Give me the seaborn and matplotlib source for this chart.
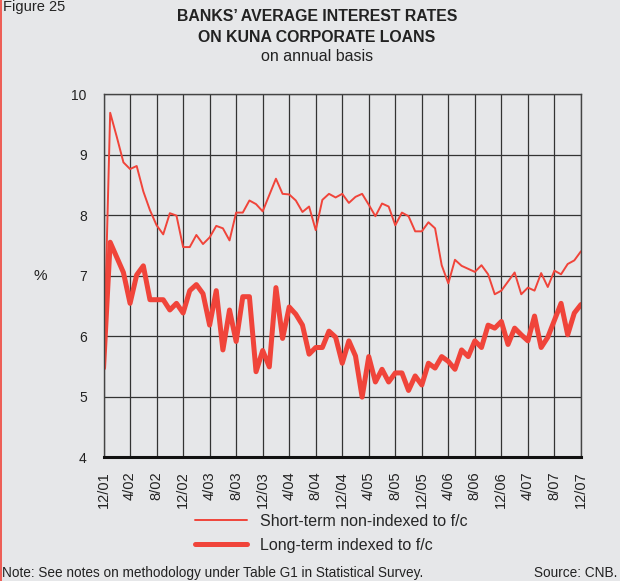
import numpy as np
import pandas as pd
import matplotlib
matplotlib.use("Agg")
import matplotlib.pyplot as plt
import seaborn as sns

# monthly data, 12/2001 - 12/2007
short_term = [5.45, 9.69, 9.29, 8.87, 8.76, 8.81, 8.39, 8.08, 7.83, 7.68, 8.03, 7.99,
              7.47, 7.47, 7.67, 7.52, 7.63, 7.82, 7.78, 7.58, 8.04, 8.04, 8.24, 8.18,
              8.06, 8.33, 8.60, 8.35, 8.34, 8.24, 8.05, 8.14, 7.75, 8.25, 8.35, 8.29,
              8.35, 8.20, 8.30, 8.35, 8.17, 7.98, 8.19, 8.14, 7.83, 8.04, 7.98, 7.73,
              7.73, 7.88, 7.78, 7.17, 6.87, 7.26, 7.16, 7.11, 7.06, 7.17, 7.02, 6.69,
              6.75, 6.90, 7.05, 6.69, 6.80, 6.75, 7.04, 6.81, 7.08, 7.02, 7.19, 7.25,
              7.40]
long_term = [5.47, 7.55, 7.30, 7.05, 6.54, 7.01, 7.16, 6.60, 6.60, 6.60, 6.43, 6.54,
             6.38, 6.75, 6.85, 6.70, 6.18, 6.75, 5.77, 6.43, 5.91, 6.65, 6.65, 5.41,
             5.76, 5.49, 6.80, 5.96, 6.48, 6.36, 6.18, 5.70, 5.81, 5.81, 6.08, 5.98,
             5.55, 5.92, 5.67, 4.99, 5.66, 5.24, 5.45, 5.24, 5.39, 5.39, 5.10, 5.34,
             5.19, 5.55, 5.47, 5.66, 5.58, 5.45, 5.77, 5.66, 5.92, 5.81, 6.18, 6.13,
             6.24, 5.86, 6.13, 6.02, 5.92, 6.33, 5.81, 5.98, 6.26, 6.54, 6.02, 6.38,
             6.52]
tick_labels = ["12/01", "4/02", "8/02", "12/02", "4/03", "8/03", "12/03", "4/04",
               "8/04", "12/04", "4/05", "8/05", "12/05", "4/06", "8/06", "12/06",
               "4/07", "8/07", "12/07"]
series_names = ["Short-term non-indexed to f/c", "Long-term indexed to f/c"]

bg = "#e6e7e9"
red = "#f0443a"
ink = "#222222"

sns.set_theme(style="white")
plt.rcParams["font.family"] = ["Liberation Sans", "DejaVu Sans"]

months = np.arange(len(short_term))
df = pd.DataFrame({"month": np.concatenate([months, months]),
                   "rate": short_term + long_term,
                   "series": [series_names[0]] * len(short_term) + [series_names[1]] * len(long_term)})

fig = plt.figure(figsize=(6.2, 5.81), dpi=100, facecolor=bg)
ax = fig.add_axes([0.167, 0.2134, 0.770, 0.6248])
ax.set_facecolor(bg)

sns.lineplot(data=df, x="month", y="rate", hue="series", size="series",
             sizes={series_names[0]: 1.4, series_names[1]: 3.6},
             palette={series_names[0]: red, series_names[1]: red},
             ax=ax, legend=False)

ax.set_xlim(0, len(short_term) - 1)
ax.set_ylim(4, 10)
ax.set_xticks(np.arange(0, len(short_term), 4))
ax.set_xticklabels(tick_labels, rotation=90, fontsize=10.5, color=ink)
ax.set_yticks(range(4, 11))
ax.set_yticklabels([str(v) for v in range(4, 11)], fontsize=10, color=ink)
ax.tick_params(axis="x", direction="out", length=6, width=1, color="#444444", pad=4)
ax.tick_params(axis="y", direction="out", length=6, width=1, color="#444444", pad=6)
ax.grid(True, color="#333333", linewidth=0.9)
ax.set_axisbelow(True)
for side in ["top", "right", "left"]:
    ax.spines[side].set_color("#444444")
    ax.spines[side].set_linewidth(1)
ax.spines["bottom"].set_color("#111111")
ax.spines["bottom"].set_linewidth(2.2)
ax.set_xlabel("")
ax.set_ylabel("")
fig.text(0.065, 0.525, "%", fontsize=11, ha="center", va="center", color=ink)

# legend
h1 = plt.Line2D([], [], color=red, lw=1.4)
h2 = plt.Line2D([], [], color=red, lw=3.6)
fig.legend([h1, h2], series_names, loc="center", bbox_to_anchor=(0.534, 0.082),
           frameon=False, fontsize=11.5, handlelength=3.3, handletextpad=0.8,
           labelspacing=0.55)

# titles and notes
fig.text(0.511, 0.953, "BANKS’ AVERAGE INTEREST RATES\nON KUNA CORPORATE LOANS",
         ha="center", va="center", fontsize=11.4, fontweight="bold", color=ink,
         linespacing=1.5)
fig.text(0.511, 0.902, "on annual basis", ha="center", va="center", fontsize=11.5,
         color=ink)
fig.text(0.005, 1.0, "Figure 25", ha="left", va="top", fontsize=10.5, color=ink)
fig.text(0.003, 0.014, "Note: See notes on methodology under Table G1 in Statistical Survey.",
         ha="left", va="center", fontsize=9.8, color=ink)
fig.text(0.995, 0.014, "Source: CNB.", ha="right", va="center", fontsize=9.8, color=ink)
fig.add_artist(plt.Line2D([0.002, 0.002], [0, 1], transform=fig.transFigure,
                          color=red, lw=1.2))

fig.savefig("out.png", dpi=100, facecolor=bg)
